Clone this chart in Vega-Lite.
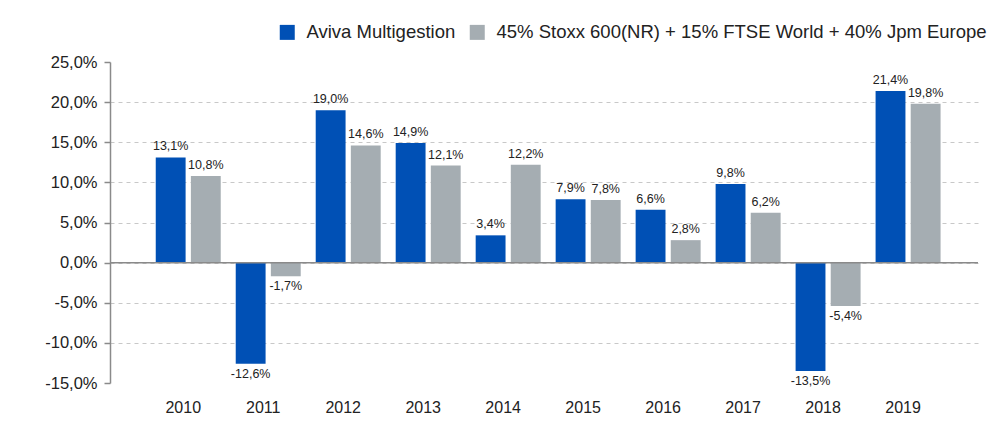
{
  "$schema": "https://vega.github.io/schema/vega-lite/v6.json",
  "width": 868,
  "height": 321,
  "autosize": {"type": "none"},
  "padding": {"left": 110, "top": 62, "right": 17, "bottom": 42},
  "background": "white",
  "config": {
    "locale": {"number": {"decimal": ",", "thousands": ".", "grouping": [3], "currency": ["", " €"], "minus": "-"}},
    "font": "Liberation Sans",
    "view": {"stroke": null}
  },
  "data": {
    "values": [
      {"year": "2010", "series": "Aviva Multigestion", "value": 0.131},
      {"year": "2010", "series": "45% Stoxx 600(NR) + 15% FTSE World + 40% Jpm Europe", "value": 0.108},
      {"year": "2011", "series": "Aviva Multigestion", "value": -0.126},
      {"year": "2011", "series": "45% Stoxx 600(NR) + 15% FTSE World + 40% Jpm Europe", "value": -0.017},
      {"year": "2012", "series": "Aviva Multigestion", "value": 0.190},
      {"year": "2012", "series": "45% Stoxx 600(NR) + 15% FTSE World + 40% Jpm Europe", "value": 0.146},
      {"year": "2013", "series": "Aviva Multigestion", "value": 0.149},
      {"year": "2013", "series": "45% Stoxx 600(NR) + 15% FTSE World + 40% Jpm Europe", "value": 0.121},
      {"year": "2014", "series": "Aviva Multigestion", "value": 0.034},
      {"year": "2014", "series": "45% Stoxx 600(NR) + 15% FTSE World + 40% Jpm Europe", "value": 0.122},
      {"year": "2015", "series": "Aviva Multigestion", "value": 0.079},
      {"year": "2015", "series": "45% Stoxx 600(NR) + 15% FTSE World + 40% Jpm Europe", "value": 0.078},
      {"year": "2016", "series": "Aviva Multigestion", "value": 0.066},
      {"year": "2016", "series": "45% Stoxx 600(NR) + 15% FTSE World + 40% Jpm Europe", "value": 0.028},
      {"year": "2017", "series": "Aviva Multigestion", "value": 0.098},
      {"year": "2017", "series": "45% Stoxx 600(NR) + 15% FTSE World + 40% Jpm Europe", "value": 0.062},
      {"year": "2018", "series": "Aviva Multigestion", "value": -0.135},
      {"year": "2018", "series": "45% Stoxx 600(NR) + 15% FTSE World + 40% Jpm Europe", "value": -0.054},
      {"year": "2019", "series": "Aviva Multigestion", "value": 0.214},
      {"year": "2019", "series": "45% Stoxx 600(NR) + 15% FTSE World + 40% Jpm Europe", "value": 0.198}
    ]
  },
  "layer": [
    {
      "mark": {"type": "bar"},
      "encoding": {
        "x": {
          "field": "year", "type": "nominal",
          "scale": {"paddingInner": 0.1875, "paddingOuter": 0.52, "align": 0.55},
          "axis": {"title": null, "domain": false, "ticks": false, "labelAngle": 0, "labelFontSize": 16, "labelColor": "#222", "labelPadding": 16, "labelOffset": -5}
        },
        "xOffset": {"field": "series", "type": "nominal", "sort": null, "scale": {"paddingInner": 0.15}},
        "y": {
          "field": "value", "type": "quantitative",
          "scale": {"domain": [-0.15, 0.25], "nice": false},
          "axis": {
            "title": null, "format": ".1%", "values": [-0.15, -0.1, -0.05, 0, 0.05, 0.1, 0.15, 0.2, 0.25],
            "labelFontSize": 16.5, "labelColor": "#222", "labelPadding": 7,
            "domainColor": "#8a8a8a", "domainWidth": 1.5, "tickColor": "#8a8a8a", "tickSize": 6, "tickWidth": 1.5,
            "gridColor": "#c8c8c8", "gridDash": [4, 4], "gridWidth": 1,
            "gridOpacity": {"condition": {"test": "datum.value >= 0.249 || datum.value <= -0.149", "value": 0}, "value": 1}
          }
        },
        "color": {
          "field": "series", "type": "nominal", "sort": null,
          "scale": {"domain": ["Aviva Multigestion", "45% Stoxx 600(NR) + 15% FTSE World + 40% Jpm Europe"], "range": ["#0050B5", "#A5ADB2"]},
          "legend": {"orient": "none", "legendX": 168, "legendY": -39, "direction": "horizontal", "title": null, "symbolType": "square", "symbolSize": 225, "symbolStrokeWidth": 0, "labelFontSize": 18.5, "labelColor": "#222", "labelOffset": 10, "columnPadding": 12, "symbolOpacity": 1, "labelLimit": 700}
        }
      }
    },
    {
      "data": {"values": [{"z": 0}]},
      "mark": {"type": "rule", "color": "#8a8a8a", "strokeWidth": 1.5},
      "encoding": {"y": {"field": "z", "type": "quantitative"}}
    },
    {
      "transform": [{"filter": "datum.value >= 0"}],
      "mark": {"type": "text", "baseline": "bottom", "dy": -4, "fontSize": 12.5, "color": "#222"},
      "encoding": {
        "x": {"field": "year", "type": "nominal"},
        "xOffset": {"field": "series", "type": "nominal", "sort": null},
        "y": {"field": "value", "type": "quantitative"},
        "text": {"field": "value", "type": "quantitative", "format": ".1%"}
      }
    },
    {
      "transform": [{"filter": "datum.value < 0"}],
      "mark": {"type": "text", "baseline": "top", "dy": 4, "fontSize": 12.5, "color": "#222"},
      "encoding": {
        "x": {"field": "year", "type": "nominal"},
        "xOffset": {"field": "series", "type": "nominal", "sort": null},
        "y": {"field": "value", "type": "quantitative"},
        "text": {"field": "value", "type": "quantitative", "format": ".1%"}
      }
    }
  ]
}
